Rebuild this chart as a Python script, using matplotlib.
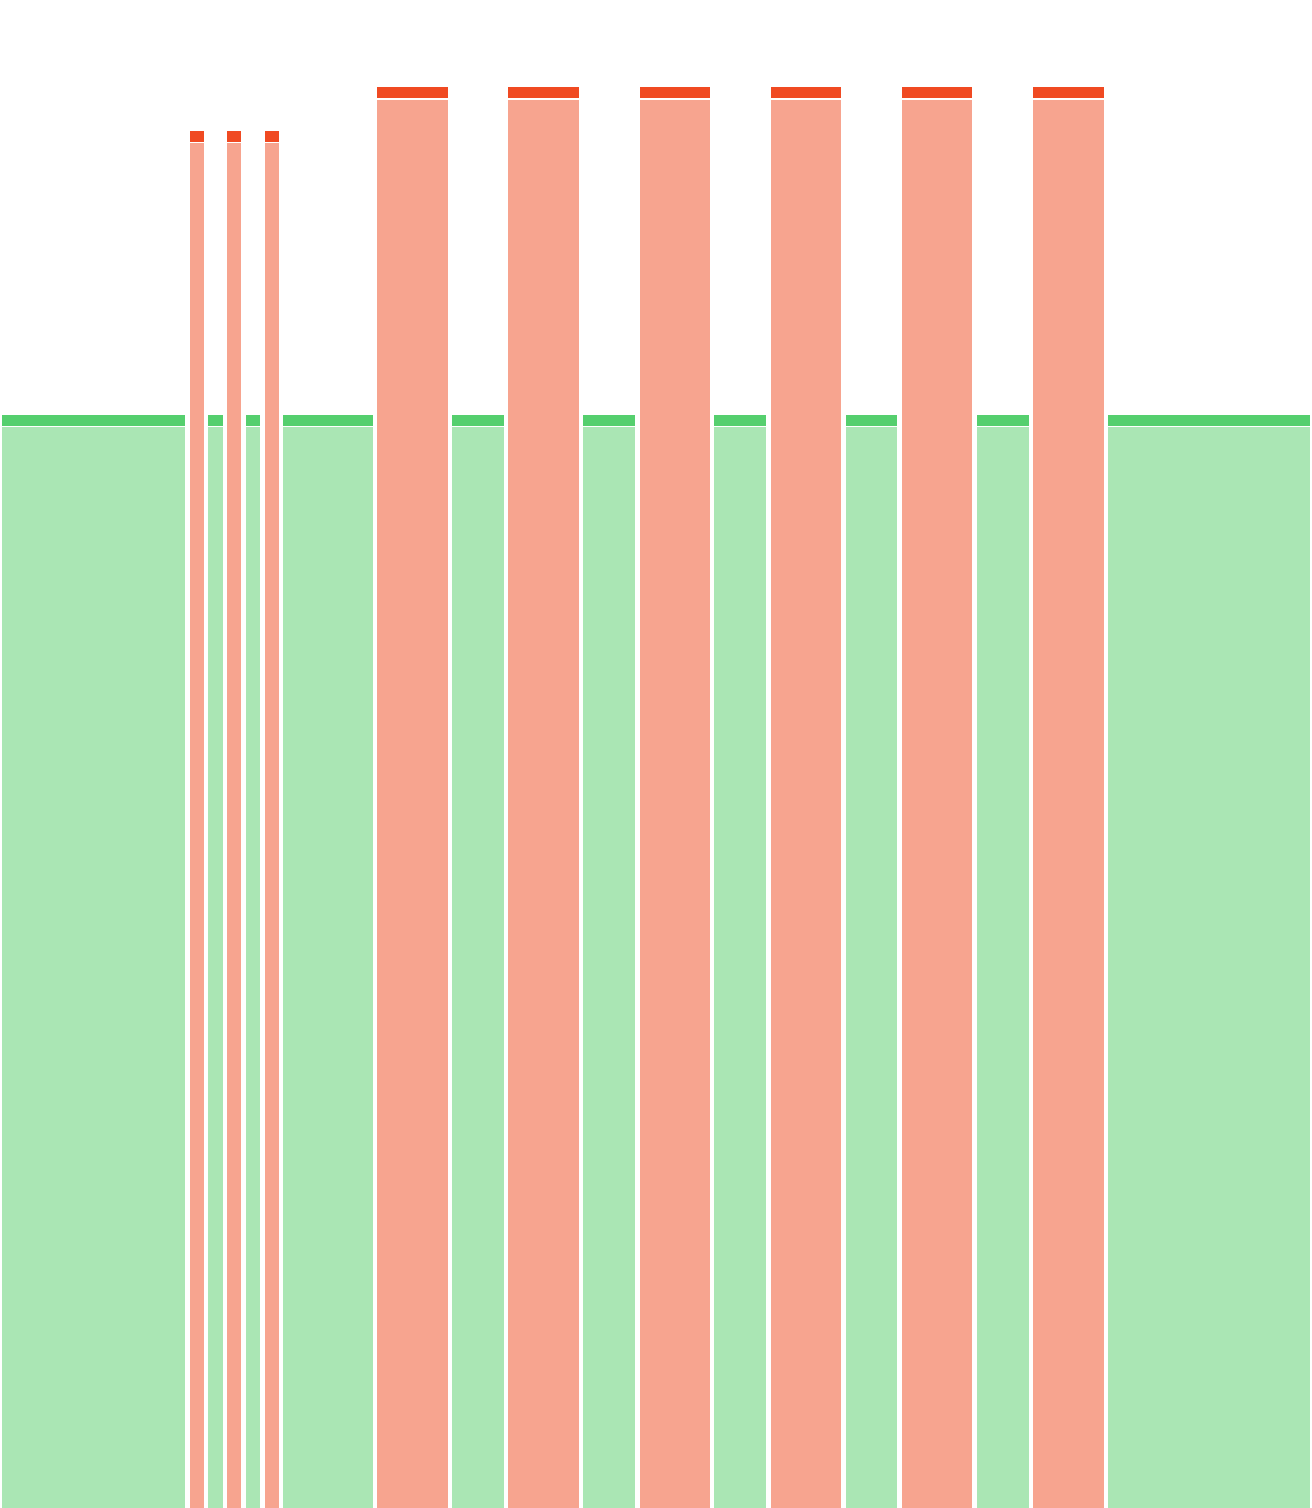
import numpy as np
import matplotlib
matplotlib.use("Agg")
import matplotlib.pyplot as plt

# ── Data: segment widths (units), heights and kind ────────────────────────────
kinds   = ["pass", "fail", "pass", "fail", "pass", "fail", "pass",
           "fail", "pass", "fail", "pass", "fail", "pass", "fail",
           "pass", "fail", "pass", "fail", "pass"]
widths  = [10, 1, 1, 1, 1, 1, 5,
           4, 3, 4, 3, 4, 3, 4,
           3, 4, 3, 4, 11]
heights = [10, 12.6, 10, 12.6, 10, 12.6, 10,
           13, 10, 13, 10, 13, 10, 13,
           10, 13, 10, 13, 10]

COLORS = {
    "pass": ("#aae6b4", "#55cf6e"),
    "fail": ("#f7a48f", "#f04a22"),
}

GAP = 0.24      # horizontal white gap (units)
CAP = 0.10      # height of dark header band
CAP_GAP = 0.012 # thin white line between header and body
Y_MAX = 13.8

# ── Figure ────────────────────────────────────────────────────────────────────
fig = plt.figure(figsize=(13.12, 15.08), dpi=100)
ax = fig.add_axes([0, 0, 1, 1])

lefts = np.concatenate([[0], np.cumsum(widths)[:-1]])
for kind, x0, w, h in zip(kinds, lefts, widths, heights):
    body_c, cap_c = COLORS[kind]
    ax.bar(x0 + GAP / 2, h - CAP - CAP_GAP, width=w - GAP, align="edge",
           color=body_c, linewidth=0)
    ax.bar(x0 + GAP / 2, CAP, bottom=h - CAP, width=w - GAP, align="edge",
           color=cap_c, linewidth=0)

ax.set_xlim(0, sum(widths))
ax.set_ylim(0, Y_MAX)
ax.axis("off")

fig.savefig("out.png", dpi=100, facecolor="white")
